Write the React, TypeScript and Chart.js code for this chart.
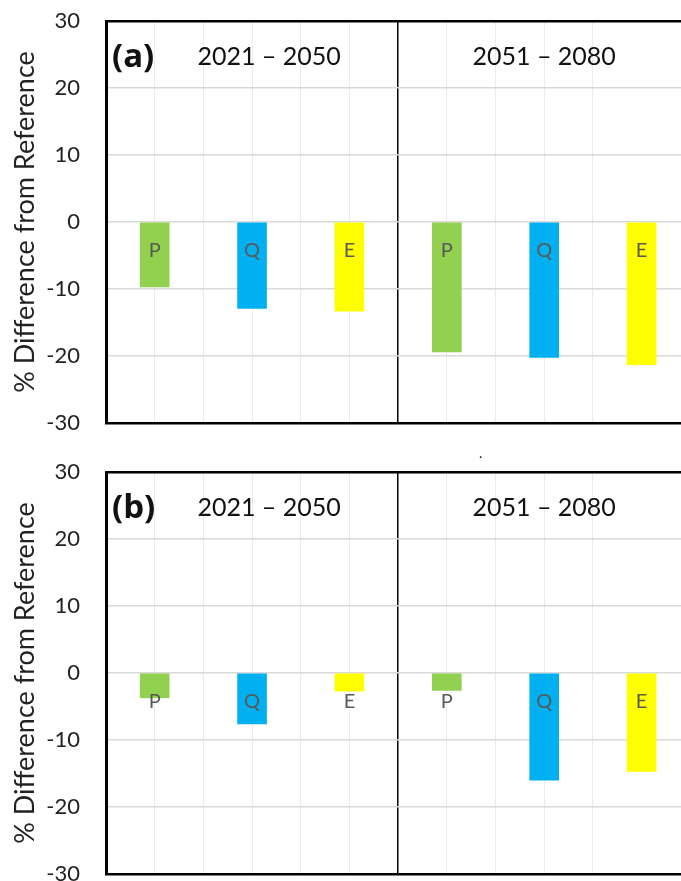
import React, { useEffect, useRef } from "react";
import { Chart, registerables } from "chart.js";
Chart.register(...registerables);

const componentLabels = ["P", "Q", "E", "P", "Q", "E"];
const barPositions = [1, 3, 5, 7, 9, 11];
const barColors = ["#92D050", "#00B0F0", "#FFFF00", "#92D050", "#00B0F0", "#FFFF00"];
const panelAValues = [-9.7, -12.9, -13.3, -19.4, -20.2, -21.3];
const panelBValues = [-3.7, -7.6, -2.7, -2.6, -16.0, -14.7];
const periodLabels = ["2021 \u2013 2050", "2051 \u2013 2080"];
const periodLabelPositions = [3.35, 9];
const panelTags = ["(a)", "(b)"];
const yMin = -30;
const yMax = 30;
const yStep = 10;
const dividerPosition = 6;
const xMax = 11.81;
const letterLevel = -4.3;
const periodLevel = 24.7;

function makeAnnotPlugin(tag: string, showDot: boolean) {
  return {
    id: "annot",
    afterDatasetsDraw(chart: any) {
      const { ctx, chartArea } = chart;
      const xs = chart.scales.x;
      const ys = chart.scales.y;
      ctx.save();
      ctx.textAlign = "center";
      ctx.textBaseline = "middle";
      ctx.fillStyle = "#595959";
      ctx.font = "20px Lato";
      componentLabels.forEach((l, i) => {
        ctx.fillText(l, xs.getPixelForValue(barPositions[i]), ys.getPixelForValue(letterLevel));
      });
      ctx.fillStyle = "#111";
      ctx.font = "25px Lato";
      periodLabels.forEach((l, i) => {
        ctx.fillText(l, xs.getPixelForValue(periodLabelPositions[i]), ys.getPixelForValue(periodLevel));
      });
      ctx.textAlign = "left";
      ctx.font = "bold 33px 'Open Sans'";
      ctx.fillStyle = "#111";
      ctx.fillText(tag, chartArea.left + 6, ys.getPixelForValue(periodLevel) + 1);
      if (showDot) {
        ctx.font = "14px Lato";
        ctx.fillText(".", 479, 2);
      }
      ctx.restore();
    },
  };
}

function Panel({ values, tag, showDot }: { values: number[]; tag: string; showDot: boolean }) {
  const ref = useRef<HTMLCanvasElement>(null);
  useEffect(() => {
    if (!ref.current) return;
    const chart = new Chart(ref.current, {
      type: "bar",
      data: {
        datasets: [
          {
            data: values.map((v, i) => ({ x: barPositions[i], y: v })),
            backgroundColor: barColors,
            borderWidth: 0,
            barThickness: 29,
          },
        ],
      },
      options: {
        responsive: false,
        animation: false,
        layout: { padding: { top: 21, bottom: 28, left: 0, right: 0 } },
        plugins: { legend: { display: false }, tooltip: { enabled: false } },
        scales: {
          x: {
            type: "linear",
            offset: false,
            min: 0,
            max: xMax,
            afterBuildTicks: (s: any) => {
              s.ticks = s.ticks.filter((t: any) => Number.isInteger(t.value));
            },
            ticks: { display: false, stepSize: 1 },
            grid: {
              offset: false,
              drawTicks: false,
              color: (c: any) => (c.tick && c.tick.value === dividerPosition ? "#000" : "#ebebeb"),
              lineWidth: (c: any) => (c.tick && c.tick.value === dividerPosition ? 1.5 : 1),
            },
            border: { display: true, color: "#000", width: 2.5 },
          },
          y: {
            min: yMin,
            max: yMax,
            afterFit: (s: any) => {
              s.width = 106;
            },
            ticks: {
              stepSize: yStep,
              padding: 0,
              color: "#222",
              font: { family: "Lato", size: 22 },
            },
            grid: {
              drawTicks: true,
              tickLength: 26,
              tickColor: "rgba(0,0,0,0)",
              color: (c: any) => (c.tick && c.tick.value === yMax ? "#000" : "#d9d9d9"),
              lineWidth: (c: any) => (c.tick && c.tick.value === yMax ? 2.5 : 1.5),
            },
            border: { display: true, color: "#000", width: 3 },
            title: {
              display: true,
              text: "% Difference from Reference",
              color: "#222",
              font: { family: "Lato", size: 27 },
              padding: { top: 9, bottom: 0 },
            },
          },
        },
      },
      plugins: [makeAnnotPlugin(tag, showDot)],
    } as any);
    return () => chart.destroy();
  }, []);
  return <canvas ref={ref} width={681} height={451} style={{ display: "block" }} />;
}

export default function App() {
  return (
    <div
      style={{
        position: "fixed",
        left: 0,
        top: 0,
        width: 681,
        height: 881,
        overflow: "hidden",
        background: "#fff",
      }}
    >
      <div style={{ position: "absolute", left: 0, top: 0 }}>
        <Panel values={panelAValues} tag={panelTags[0]} showDot={false} />
      </div>
      <div style={{ position: "absolute", left: 0, top: 451 }}>
        <Panel values={panelBValues} tag={panelTags[1]} showDot={true} />
      </div>
    </div>
  );
}
